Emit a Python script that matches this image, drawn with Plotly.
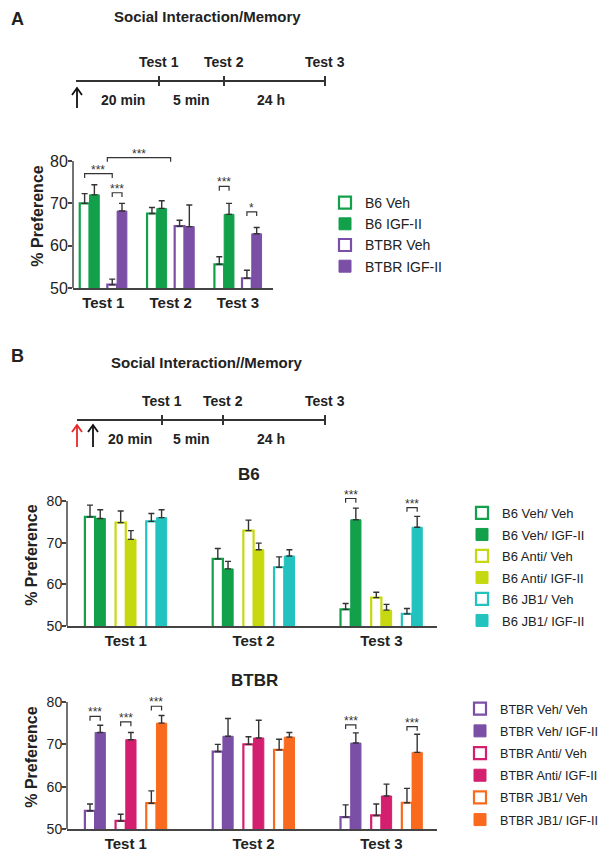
import plotly.graph_objects as go

# The page body has an 8px default margin, so the figure is 8px smaller
# and all layout positions below are given in window pixels.
WIN_W, WIN_H, PAGE_M = 610, 853, 8
W, H = WIN_W - PAGE_M, WIN_H - PAGE_M
FONT = "Liberation Sans, Arial, sans-serif"
TXT = "#222222"

# ---------------- data ----------------
tests = ["Test 1", "Test 2", "Test 3"]

a_series = ["B6 Veh", "B6 IGF-II", "BTBR Veh", "BTBR IGF-II"]
a_means = [
    [70.0, 67.6, 55.6],
    [72.0, 68.8, 67.4],
    [50.8, 64.6, 52.3],
    [68.2, 64.5, 62.8],
]
a_sem = [
    [2.3, 1.4, 1.8],
    [2.4, 1.8, 2.6],
    [1.3, 1.4, 1.9],
    [1.8, 5.1, 1.5],
]

b6_series = ["B6 Veh/ Veh", "B6 Veh/ IGF-II", "B6 Anti/ Veh", "B6 Anti/ IGF-II", "B6 JB1/ Veh", "B6 JB1/ IGF-II"]
b6_means = [
    [76.2, 66.1, 54.0],
    [75.8, 63.7, 75.5],
    [74.8, 72.9, 56.8],
    [70.8, 68.3, 53.8],
    [75.1, 64.1, 52.9],
    [76.0, 66.8, 73.7],
]
b6_sem = [
    [2.8, 2.5, 1.4],
    [2.1, 1.8, 2.8],
    [2.8, 2.5, 1.3],
    [2.1, 1.6, 1.4],
    [1.9, 2.5, 1.3],
    [1.9, 1.5, 2.6],
]

btbr_series = ["BTBR Veh/ Veh", "BTBR Veh/ IGF-II", "BTBR Anti/ Veh", "BTBR Anti/ IGF-II", "BTBR JB1/ Veh", "BTBR JB1/ IGF-II"]
btbr_means = [
    [54.3, 68.3, 52.8],
    [72.8, 71.9, 70.3],
    [51.9, 70.0, 53.2],
    [71.1, 71.5, 57.8],
    [56.1, 68.7, 56.2],
    [75.0, 71.7, 68.1],
]
btbr_sem = [
    [1.6, 1.7, 2.9],
    [1.7, 4.2, 2.4],
    [1.6, 1.8, 2.7],
    [1.7, 4.2, 2.8],
    [2.9, 2.5, 3.4],
    [1.8, 1.1, 4.3],
]

# significance: (group, bar_i, bar_j, bracket level, label)
a_sig = [(0, 0, 2, 77.0, "***"), (0, 2, 3, 72.5, "***"), (2, 0, 1, 74.0, "***"), (2, 2, 3, 68.0, "*")]
a_sig_long = (0.06, 1.0, 80.8, "***")  # Test 1 -> Test 2 comparison
b6_sig = [(2, 0, 1, 80.6, "***"), (2, 4, 5, 78.4, "***")]
btbr_sig = [(0, 0, 1, 76.6, "***"), (0, 2, 3, 75.3, "***"), (0, 4, 5, 79.0, "***"),
            (2, 0, 1, 74.6, "***"), (2, 4, 5, 74.2, "***")]

# ---------------- styles ----------------
GREEN = "#12a04b"
PURPLE = "#7a4fa5"
LIME = "#c6d80f"
CYAN = "#22c3bf"
MAGENTA = "#d31f6d"
ORANGE = "#fa6a1e"

a_colors = [GREEN, GREEN, PURPLE, PURPLE]
b6_colors = [GREEN, GREEN, LIME, LIME, CYAN, CYAN]
btbr_colors = [PURPLE, PURPLE, MAGENTA, MAGENTA, ORANGE, ORANGE]

A_W = 0.145
A_OFF = [-0.35, -0.205, 0.06, 0.205]
B_W = 0.08
B_OFF = [-0.32, -0.24, -0.08, 0.0, 0.16, 0.24]
YMIN, YTOP, YMAX = 50, 80, 84


def px(x):
    return (x - PAGE_M) / W


def py(y):
    return 1 - (y - PAGE_M) / H


def ydomain(p50, p80):
    top = p80 - (YMAX - YTOP) / (YTOP - YMIN) * (p50 - p80)
    return [py(p50), py(top)]


fig = go.Figure()


def add_panel(series, means, sems, colors, offs, bw, xa, ya, legend):
    for i, name in enumerate(series):
        hollow = (i % 2 == 0)
        fig.add_trace(go.Bar(
            x=[0, 1, 2], y=means[i], name=name, legendgroup=name,
            offset=offs[i], width=bw,
            marker=dict(color="white" if hollow else colors[i],
                        line=dict(color=colors[i], width=2.2 if hollow else 1)),
            error_y=dict(type="data", array=sems[i], arrayminus=[0] * 3, symmetric=False,
                         color="#333333", thickness=1.4, width=3),
            xaxis=xa, yaxis=ya, legend=legend, showlegend=True,
        ))


add_panel(a_series, a_means, a_sem, a_colors, A_OFF, A_W, "x", "y", "legend")
add_panel(b6_series, b6_means, b6_sem, b6_colors, B_OFF, B_W, "x2", "y2", "legend2")
add_panel(btbr_series, btbr_means, btbr_sem, btbr_colors, B_OFF, B_W, "x3", "y3", "legend3")

shapes = []
annotations = []

AX = "#444444"
# y axis lines that stop at 80
for xa, ya in [("x", "y"), ("x2", "y2"), ("x3", "y3")]:
    shapes.append(dict(type="line", xref=f"{xa} domain", yref=ya, x0=0, x1=0, y0=YMIN, y1=YTOP,
                       line=dict(color=AX, width=1.5)))


def bracket(xa, ya, x1, x2, y, label, drop=1.0):
    shapes.append(dict(type="path", xref=xa, yref=ya,
                       path=f"M {x1},{y - drop} L {x1},{y} L {x2},{y} L {x2},{y - drop}",
                       line=dict(color="#333333", width=1.2)))
    annotations.append(dict(x=(x1 + x2) / 2, y=y, xref=xa, yref=ya, text=label, showarrow=False,
                            xanchor="center", yanchor="bottom", yshift=-5,
                            font=dict(size=12, color="#333333", family=FONT)))


for g, i, j, lvl, lab in a_sig:
    bracket("x", "y", g + A_OFF[i] + A_W / 2, g + A_OFF[j] + A_W / 2, lvl, lab)
bracket("x", "y", a_sig_long[0], a_sig_long[1], a_sig_long[2], a_sig_long[3])
for g, i, j, lvl, lab in b6_sig:
    bracket("x2", "y2", g + B_OFF[i] + B_W / 2, g + B_OFF[j] + B_W / 2, lvl, lab)
for g, i, j, lvl, lab in btbr_sig:
    bracket("x3", "y3", g + B_OFF[i] + B_W / 2, g + B_OFF[j] + B_W / 2, lvl, lab)


def text(x, y, s, size, anchor="center"):
    annotations.append(dict(x=px(x), y=py(y), xref="paper", yref="paper", text=s, showarrow=False,
                            xanchor=anchor, yanchor="middle", font=dict(size=size, color=TXT, family=FONT)))


# ---------------- timelines ----------------
def timeline(title, y_line, ticks, x0, dur_x, title_y):
    text(207, title_y, f"<b>{title}</b>", 15)
    shapes.append(dict(type="line", xref="paper", yref="paper", x0=px(x0), x1=px(ticks[-1]),
                       y0=py(y_line), y1=py(y_line), line=dict(color="#333333", width=2)))
    for t, lab in zip(ticks, tests):
        shapes.append(dict(type="line", xref="paper", yref="paper", x0=px(t), x1=px(t),
                           y0=py(y_line - 5), y1=py(y_line + 5), line=dict(color="#333333", width=2)))
        text(t, y_line - 19, f"<b>{lab}</b>", 14)
    for xx, lab in zip(dur_x, ["20 min", "5 min", "24 h"]):
        text(xx, y_line + 19, f"<b>{lab}</b>", 14)


def up_arrow(x, ytip, ybot, color):
    shapes.append(dict(type="line", xref="paper", yref="paper", x0=px(x), x1=px(x), y0=py(ybot), y1=py(ytip),
                       line=dict(color=color, width=1.8)))
    shapes.append(dict(type="path", xref="paper", yref="paper",
                       path=f"M {px(x - 5)},{py(ytip + 7)} L {px(x)},{py(ytip)} L {px(x + 5)},{py(ytip + 7)}",
                       line=dict(color=color, width=1.8)))


timeline("Social Interaction/Memory", 81, [159, 224, 325], 76, [123, 191, 271], 17)
up_arrow(77, 88, 108, "#111111")
timeline("Social Interaction//Memory", 420, [162, 223, 325], 77, [130, 191, 271], 363)
up_arrow(77, 425, 447, "#e8262a")
up_arrow(93, 425, 447, "#111111")

text(9, 19, "<b>A</b>", 18, "left")
text(9, 356, "<b>B</b>", 18, "left")
text(249, 474, "<b>B6</b>", 17)
text(254, 680, "<b>BTBR</b>", 17)


# ---------------- axes ----------------
def xaxis(domain, rng, anchor):
    return dict(domain=domain, range=rng, anchor=anchor, tickvals=[0, 1, 2],
                ticktext=[f"<b>{t}</b>" for t in tests],
                showline=True, linecolor=AX, linewidth=1.5, ticks="", showgrid=False, zeroline=False,
                automargin=False,
                tickfont=dict(size=15, color=TXT, family=FONT), fixedrange=True)


def yaxis(domain, anchor, fs, standoff):
    return dict(domain=domain, anchor=anchor, range=[YMIN, YMAX], tickvals=[50, 60, 70, 80],
                showline=False, ticks="outside", ticklen=4, tickcolor=AX,
                tickwidth=1.5, showgrid=False, zeroline=False, ticklabelstandoff=-3, automargin=False,
                tickfont=dict(size=fs, color=TXT, family=FONT), fixedrange=True,
                title=dict(text="<b>% Preference</b>", font=dict(size=16, color=TXT, family=FONT), standoff=standoff))


layout = dict(
    width=W, height=H, margin=dict(l=0, r=0, t=0, b=0, autoexpand=False),
    paper_bgcolor="white", plot_bgcolor="white", barmode="overlay",
    font=dict(family=FONT, color=TXT),
    xaxis=xaxis([px(73), px(273)], [-0.45, 2.52], "y"),
    yaxis=yaxis(ydomain(288, 161), "x", 16, 2),
    xaxis2=xaxis([px(67), px(437)], [-0.46, 2.435], "y2"),
    yaxis2=yaxis(ydomain(626, 501), "x2", 14, 5),
    xaxis3=xaxis([px(67), px(437)], [-0.46, 2.435], "y3"),
    yaxis3=yaxis(ydomain(829, 702), "x3", 14, 5),
    shapes=shapes, annotations=annotations,
)

leg_common = dict(xanchor="left", yanchor="top", bgcolor="rgba(0,0,0,0)", borderwidth=0,
                  itemclick=False, itemdoubleclick=False)
layout["legend"] = dict(leg_common, x=px(325), y=py(187), traceorder="normal",
                        font=dict(size=14, color=TXT, family=FONT))
layout["legend2"] = dict(leg_common, x=px(462), y=py(498), traceorder="grouped", tracegroupgap=1.6,
                         font=dict(size=13, color=TXT, family=FONT))
layout["legend3"] = dict(leg_common, x=px(460), y=py(694), traceorder="grouped", tracegroupgap=2.8,
                         font=dict(size=12.6, color=TXT, family=FONT))

fig.update_layout(**layout)
fig.write_html("out.html")
